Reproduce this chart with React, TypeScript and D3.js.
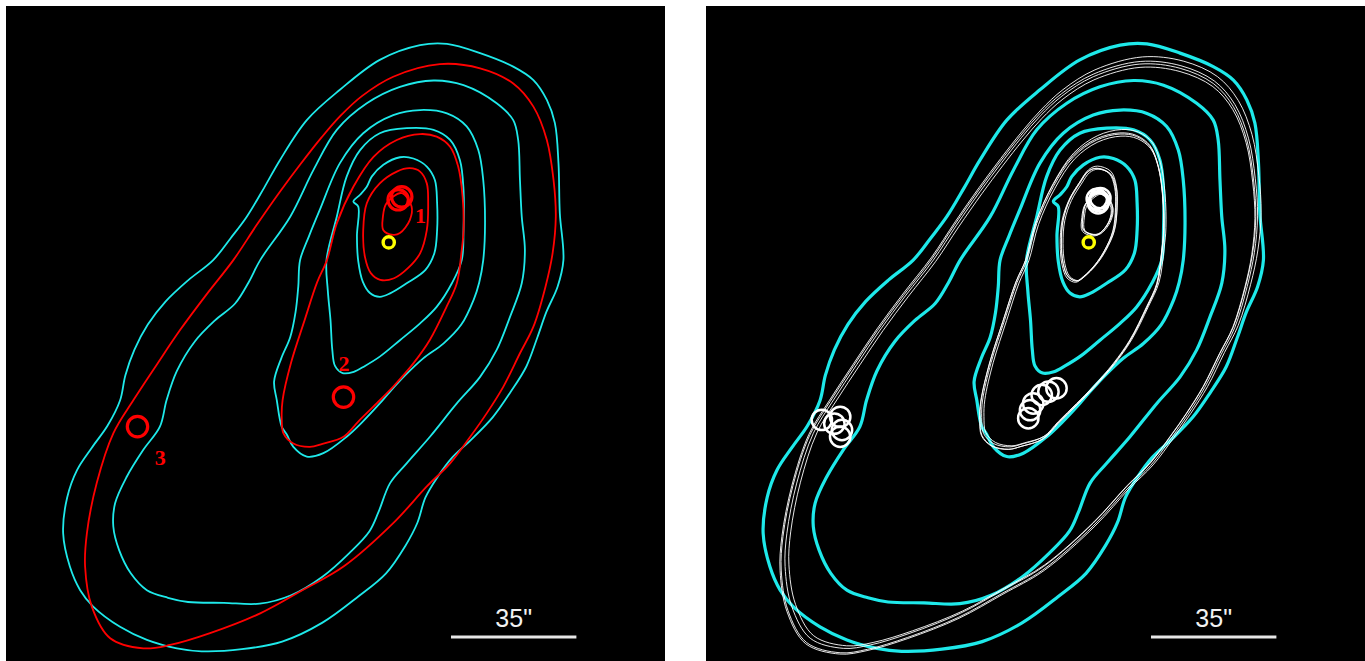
import React from "react";
import * as d3 from "d3";

type P = [number, number];

// Traced frame: u in [0,1563], v in [0,1568] covers a 700 x 661 px area of each panel.
const cyan1: P[] = [[938,107],[998,104],[1072,126],[1146,158],[1191,190],[1221,237],[1239,292],[1247,387],[1250,506],[1258,617],[1245,680],[1220,740],[1200,800],[1175,870],[1140,930],[1100,990],[1050,1045],[1010,1085],[978,1130],[950,1180],[932,1240],[905,1295],[862,1360],[800,1415],[720,1477],[630,1522],[540,1540],[450,1545],[395,1538],[328,1518],[268,1487],[208,1439],[179,1400],[156,1344],[141,1265],[150,1180],[172,1115],[205,1062],[240,1010],[268,950],[280,890],[300,830],[330,770],[370,715],[420,665],[476,617],[515,565],[551,514],[590,445],[625,380],[685,285],[759,213],[848,142]];
const cyan2: P[] = [[968,191],[1035,202],[1109,245],[1146,285],[1157,332],[1161,427],[1165,514],[1172,593],[1165,672],[1139,751],[1109,830],[1072,894],[1020,957],[960,1036],[908,1099],[871,1146],[845,1215],[825,1260],[780,1312],[720,1368],[650,1412],[580,1432],[500,1430],[420,1428],[375,1418],[328,1400],[292,1360],[266,1305],[253,1249],[257,1194],[283,1131],[320,1067],[357,1012],[372,949],[395,880],[435,810],[480,760],[525,720],[555,670],[581,617],[648,514],[700,403],[752,308],[819,245],[893,206]];
const cyan3: P[] = [[938,261],[998,269],[1042,300],[1068,356],[1079,427],[1083,530],[1079,617],[1070,670],[1058,710],[1030,770],[990,815],[945,850],[905,890],[870,930],[848,957],[810,1000],[774,1036],[722,1075],[685,1083],[655,1060],[640,1030],[629,1012],[618,949],[612,905],[628,850],[648,800],[660,740],[666,680],[670,617],[690,560],[714,498],[759,387],[811,316],[878,273]];
const cyan4: P[] = [[908,304],[968,308],[1005,332],[1027,380],[1035,451],[1035,546],[1031,617],[1009,672],[975,728],[938,767],[893,807],[848,846],[815,868],[790,882],[765,885],[748,868],[742,830],[738,760],[732,690],[729,617],[752,514],[774,419],[804,356],[848,316]];
const cyan5: P[] = [[893,373],[923,376],[953,395],[971,427],[976,482],[976,546],[970,600],[950,640],[908,672],[871,696],[848,704],[826,695],[810,668],[800,620],[797,560],[800,490],[789,478],[804,462],[819,443],[830,419],[856,391]];
const cyanLevels: P[][] = [cyan1, cyan2, cyan3, cyan4, cyan5];

const redOuter: P[] = [[982,152],[1072,162],[1146,198],[1191,253],[1221,332],[1236,427],[1241,514],[1234,600],[1218,680],[1191,775],[1161,838],[1124,917],[1087,980],[1050,1036],[1005,1099],[953,1154],[878,1241],[767,1344],[677,1399],[581,1455],[469,1502],[380,1530],[320,1538],[246,1514],[205,1439],[190,1344],[194,1265],[216,1146],[253,1028],[298,949],[350,865],[402,783],[460,700],[521,617],[573,534],[625,455],[672,388],[718,326],[760,275],[808,228],[878,182]];
const redMiddle: P[] = [[938,318],[975,324],[1005,348],[1023,395],[1033,467],[1035,546],[1031,593],[1020,672],[997,728],[960,806],[923,862],[878,917],[841,957],[800,1000],[767,1036],[720,1053],[692,1060],[655,1052],[633,1028],[629,990],[631,949],[650,860],[680,760],[708,670],[730,617],[752,530],[789,443],[834,372],[886,332]];
const redInner: P[] = [[915,399],[938,407],[953,435],[956,482],[953,546],[938,601],[912,635],[880,660],[849,664],[828,648],[815,610],[811,546],[819,482],[848,435],[886,407]];
const redInnermost: P[] = [[897,458],[919,490],[915,522],[893,553],[878,557],[856,546],[855,514],[863,482]];
const redContours: P[][] = [redOuter, redMiddle, redInner, redInnermost];

const whiteInner: P[] = [[886,399],[915,411],[927,443],[929,490],[923,546],[904,593],[882,628],[856,656],[841,666],[822,656],[811,625],[807,577],[811,522],[826,474],[848,435],[867,407]];
const whiteContours: P[][] = [redOuter, redMiddle, whiteInner, redInnermost];
// Fits drawn as a bundle: scale about centroid and shift (traced-frame units)
const bundleScale = [1.0, 1.012, 0.99, 1.022];
const bundleDx = [0, -2, 3, 1];
const bundleDy = [0, 2, 1, -2];

const redSources: P[] = [[889, 474], [897, 467], [767, 942], [307, 1012]];
const redLabels = ["1", "2", "3"];
const redLabelPos: P[] = [[939, 530], [768, 880], [358, 1103]];
const yellowSource: P = [868, 575];

const whiteSources: P[] = [[886, 472], [891, 477], [889, 482], [894, 470],
  [796, 921], [778, 929], [763, 937], [744, 957], [737, 973], [733, 992],
  [272, 996], [313, 989], [317, 1020], [313, 1036], [300, 1005]];

const scaleArcsec = 35;
const scaleBarStart: P = [1007, 1511];
const uPerArcsec = 8;

const W = 1365, H = 661;

function Panel({ ox, right }: { ox: number; right: boolean }) {
  const x = d3.scaleLinear().domain([0, 1563]).range([0, 700]);
  const y = d3.scaleLinear().domain([0, 1568]).range([0, 661]);
  const line = d3.line<P>().x(d => x(d[0])).y(d => y(d[1])).curve(d3.curveCatmullRomClosed.alpha(0.5));
  const cyan = "#1ee9ea";
  const bundle = (pts: P[], i: number): P[] => {
    const cx = d3.mean(pts, p => p[0]) as number;
    const cy = d3.mean(pts, p => p[1]) as number;
    const s = bundleScale[i];
    return pts.map(p => [cx + (p[0] - cx) * s + bundleDx[i], cy + (p[1] - cy) * s + bundleDy[i]] as P);
  };
  const barX0 = x(scaleBarStart[0]);
  const barX1 = x(scaleBarStart[0] + scaleArcsec * uPerArcsec);
  const barY = y(scaleBarStart[1]);
  return (
    <g transform={`translate(${ox},0)`}>
      <rect x={6} y={6} width={right ? 660 : 659} height={H} fill="#000" />
      {cyanLevels.map((c, i) => (
        <path key={"c" + i} d={line(c) || ""} fill="none" stroke={cyan} strokeWidth={right ? 3.2 : 1.8} />
      ))}
      {!right && redContours.map((c, i) => (
        <path key={"r" + i} d={line(c) || ""} fill="none" stroke="#ff0000" strokeWidth={1.8} />
      ))}
      {right && whiteContours.map((c, i) =>
        bundleScale.map((_, j) => (
          <path key={"w" + i + "_" + j} d={line(bundle(c, j)) || ""} fill="none" stroke="#ffffff" strokeWidth={0.9} />
        ))
      )}
      {!right && redSources.map((s, i) => (
        <circle key={"rs" + i} cx={x(s[0])} cy={y(s[1])} r={10.2} fill="none" stroke="#ff0000" strokeWidth={3.2} />
      ))}
      {!right && redLabels.map((t, i) => (
        <text key={"rl" + i} x={x(redLabelPos[i][0])} y={y(redLabelPos[i][1])} fill="#ff0000"
          fontFamily="'Liberation Serif', 'Times New Roman', serif" fontWeight="bold" fontSize={22} textAnchor="middle">{t}</text>
      ))}
      {right && whiteSources.map((s, i) => (
        <circle key={"ws" + i} cx={x(s[0])} cy={y(s[1])} r={10.2} fill="none" stroke="#ffffff" strokeWidth={2.5} />
      ))}
      <circle cx={x(yellowSource[0])} cy={y(yellowSource[1])} r={5.6} fill="none" stroke="#ffff00" strokeWidth={3.4} />
      <line x1={barX0} x2={barX1} y1={barY} y2={barY} stroke="#e6e6e6" strokeWidth={3} />
      <text x={(barX0 + barX1) / 2} y={barY - 10} fill="#f2f2f2" fontFamily="'Liberation Sans', Arial, sans-serif"
        fontSize={25} textAnchor="middle">{`${scaleArcsec}"`}</text>
    </g>
  );
}

export default function App() {
  return (
    <svg width={W} height={H} style={{ position: "absolute", left: 0, top: 0, background: "#fff" }}>
      <Panel ox={0} right={false} />
      <Panel ox={700} right={true} />
    </svg>
  );
}
